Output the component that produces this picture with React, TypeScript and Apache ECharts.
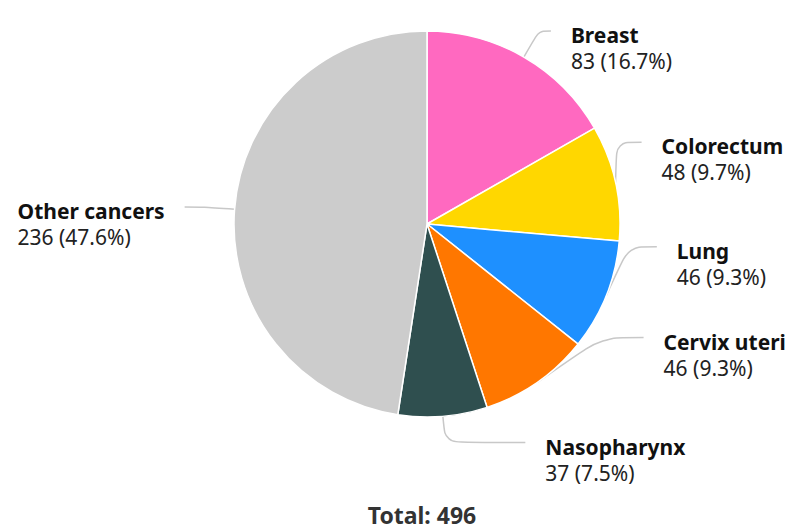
import React, { useEffect, useRef } from "react";
import * as echarts from "echarts";

const categories = ["Breast", "Colorectum", "Lung", "Cervix uteri", "Nasopharynx", "Other cancers"];
const values = [83, 48, 46, 46, 37, 236];
const colors = ["#ff69c0", "#ffd700", "#1e90ff", "#ff7700", "#2f4f4f", "#cccccc"];
const total = values.reduce((a, b) => a + b, 0);
const totalLabel = "Total: " + total;
// label styling per slice: horizontal leader segment and spacing margin
const leaderTail = [12, 25, 28, 45, 80, 20];
const labelMargin = [36, 36, 36, 36, 80, 36];

export default function App() {
  const ref = useRef<HTMLDivElement>(null);
  useEffect(() => {
    if (!ref.current) return;
    const chart = echarts.init(ref.current, null, { renderer: "svg" });
    const font = "'Noto Sans', sans-serif";
    chart.setOption({
      animation: false,
      textStyle: { fontFamily: font },
      title: {
        text: totalLabel,
        left: 422,
        textAlign: "center",
        top: 503,
        padding: 0,
        textStyle: { fontFamily: font, fontSize: 23, fontWeight: "bold", color: "#333" },
      },
      series: [
        {
          type: "pie",
          center: [427, 224],
          radius: 193,
          top: 0,
          bottom: 7,
          startAngle: 90,
          clockwise: true,
          avoidLabelOverlap: true,
          itemStyle: { borderColor: "#fff", borderWidth: 1.5 },
          label: {
            show: true,
            overflow: "none",
            bleedMargin: 2,
            distanceToLabelLine: 20,
            padding: [34, 0, 0, 0],
            formatter: (p: any) =>
              "{b|" + p.name + "}\n{v|" + p.value + " (" + ((p.value / total) * 100).toFixed(1) + "%)}",
            color: "#111",
            rich: {
              b: { fontSize: 21, lineHeight: 26, fontWeight: "bold", color: "#111", fontFamily: font, align: "left" },
              v: { fontSize: 21, lineHeight: 26, color: "#222", fontFamily: font, align: "left" },
            },
          },
          labelLine: {
            show: true,
            smooth: true,
            length: 30,
            length2: 20,
            lineStyle: { color: "#c8c8c8", width: 1.5 },
          },
          data: categories.map((name, i) => ({
            name,
            value: values[i],
            itemStyle: { color: colors[i] },
            label: { minMargin: labelMargin[i] },
            labelLine: { length2: leaderTail[i] },
          })),
        },
      ],
    });
    return () => chart.dispose();
  }, []);
  return (
    <div
      ref={ref}
      style={{ position: "fixed", left: 0, top: 0, width: 806, height: 530, background: "#fff" }}
    />
  );
}
